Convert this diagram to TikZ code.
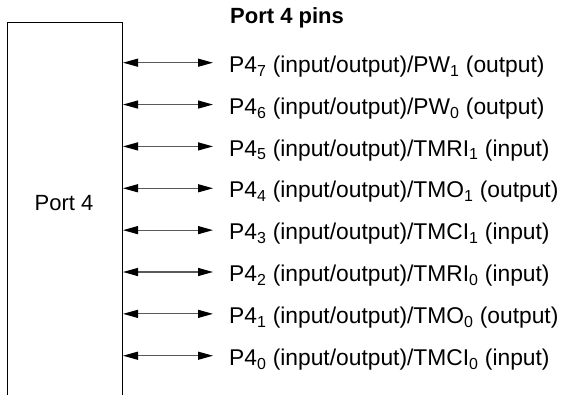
\documentclass[tikz,border=0pt]{standalone}
\usepackage{fontspec}
\setmainfont{Liberation Sans}
\usetikzlibrary{arrows.meta}
\tikzset{
  pinlabel/.style={anchor=base west, inner sep=0pt, font=\fontsize{22.8}{26}\selectfont},
  pinarrow/.style={{Triangle[length=15pt,width=8pt,black]}-{Triangle[length=15pt,width=8pt,black]}, draw=black!65, line width=1.2pt},
  portbox/.style={draw=black, line width=1pt, minimum width=115pt, minimum height=380pt, anchor=north west, inner sep=0pt},
}
\begin{document}
\begin{tikzpicture}[x=1pt,y=-1pt]
\useasboundingbox (0,0) rectangle (561,395);
\node[portbox] (box) at (7,22) {};
\node[pinlabel, font=\fontsize{22}{26}\selectfont, anchor=base] (portname) at (64,211) {Port 4};
\node[pinlabel, font=\fontsize{22}{26}\selectfont\bfseries] (title) at (230,23.5) {Port 4 pins};
\foreach \i/\txt in {
  0/{P4\textsubscript{7} (input/output)/PW\textsubscript{1} (output)},
  1/{P4\textsubscript{6} (input/output)/PW\textsubscript{0} (output)},
  2/{P4\textsubscript{5} (input/output)/TMRI\textsubscript{1} (input)},
  3/{P4\textsubscript{4} (input/output)/TMO\textsubscript{1} (output)},
  4/{P4\textsubscript{3} (input/output)/TMCI\textsubscript{1} (input)},
  5/{P4\textsubscript{2} (input/output)/TMRI\textsubscript{0} (input)},
  6/{P4\textsubscript{1} (input/output)/TMO\textsubscript{0} (output)},
  7/{P4\textsubscript{0} (input/output)/TMCI\textsubscript{0} (input)}}{
  \node[pinlabel] (t\i) at (229,72.3+41.86*\i) {\txt};
  \coordinate (e\i) at (213,62.7+41.86*\i);
  \draw[pinarrow] (box.east |- e\i) -- (e\i);
}
\end{tikzpicture}
\end{document}
